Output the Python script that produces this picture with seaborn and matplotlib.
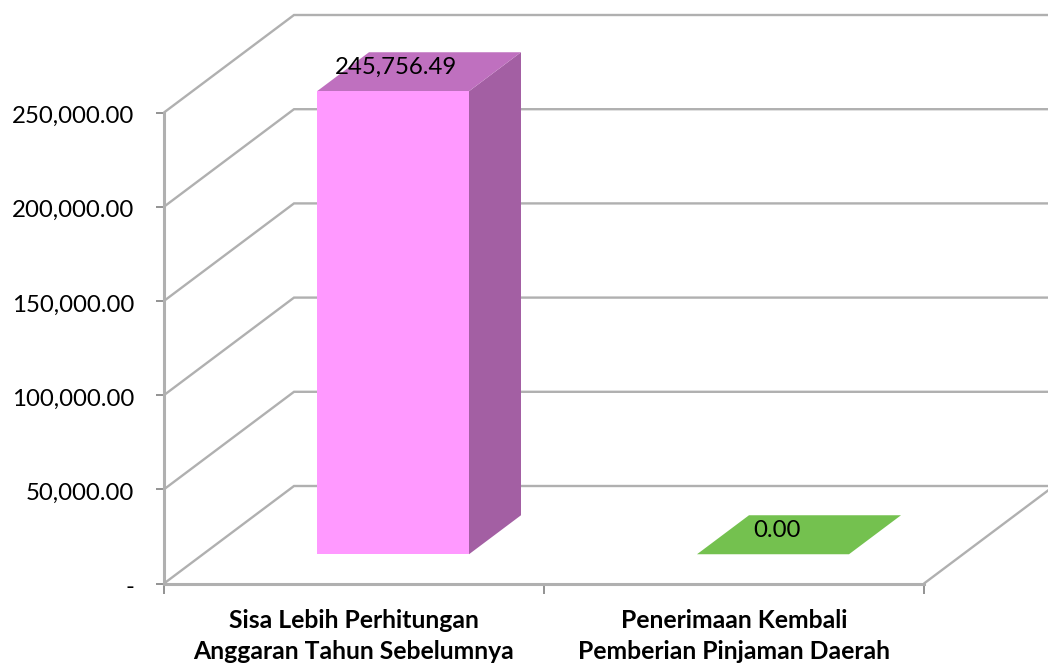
#!/usr/bin/env python3
# -*- coding: utf-8 -*-
"""Pseudo-3D column chart: seaborn draws the front faces, the depth faces are added on top."""

import matplotlib
matplotlib.use("Agg")
import matplotlib.pyplot as plt
import matplotlib.transforms as mtrans
import seaborn as sns
from matplotlib.patches import Polygon

categories = ["Sisa Lebih Perhitungan\nAnggaran Tahun Sebelumnya",
              "Penerimaan Kembali\nPemberian Pinjaman Daerah"]
values = [245756.49, 0.00]
value_labels = ["245,756.49", "0.00"]
y_ticks = [0, 50000, 100000, 150000, 200000, 250000]
y_tick_labels = ["-", "50,000.00", "100,000.00", "150,000.00", "200,000.00", "250,000.00"]

front_colors = ["#ff99ff", "#74c14f"]
top_colors = ["#bf70bf", "#74c14f"]
side_colors = ["#a35fa3", "#74c14f"]
line_color = "#b0b0b0"

W, H = 1048, 667
# plot box in pixels
LEFT, RIGHT, BOTTOM, TOP = 164, 924, 583.5, 112.5
BAR_WIDTH = 0.4
DEPTH_START, DEPTH_END = 0.3, 0.7

sns.set_style("white")
plt.rcParams["font.family"] = ["Lato", "DejaVu Sans"]

fig = plt.figure(figsize=(W / 100, H / 100), dpi=100)
ax = fig.add_axes([LEFT / W, (H - BOTTOM) / H, (RIGHT - LEFT) / W, (BOTTOM - TOP) / H])

sns.barplot(x=categories, y=values, hue=categories, palette=front_colors, width=BAR_WIDTH,
            dodge=False, legend=False, saturation=1, linewidth=0, ax=ax)

ax.set_xlim(-0.5, 1.5)
ax.set_ylim(0, 250000)

# full depth of the chart box, expressed in data units
DX = 130 / ((RIGHT - LEFT) / 2)
DY = 97.5 / (BOTTOM - TOP) * 250000


def project(x, y, depth):
    return x + depth * DX, y + depth * DY


# walls and floor
for v in y_ticks:
    x0, y0 = project(-0.5, v, 0)
    x1, y1 = project(-0.5, v, 1)
    x2, y2 = project(1.5, v, 1)
    ax.plot([x0, x1, x2], [y0, y1, y2], color=line_color, lw=1.7, clip_on=False, zorder=1,
            solid_joinstyle="miter")
x0, y0 = project(1.5, 0, 0)
x1, y1 = project(1.5, 0, 1)
ax.plot([x0, x1], [y0, y1], color=line_color, lw=1.7, clip_on=False, zorder=1)

# push the front faces back and add top and side faces
for i, patch in enumerate(ax.patches):
    px, py = project(patch.get_x(), patch.get_y(), DEPTH_START)
    patch.set_x(px)
    patch.set_y(py)
    patch.set_clip_on(False)
    patch.set_zorder(3)

    xl, xr = i - BAR_WIDTH / 2, i + BAR_WIDTH / 2
    v = values[i]
    top = [project(xl, v, DEPTH_START), project(xr, v, DEPTH_START),
           project(xr, v, DEPTH_END), project(xl, v, DEPTH_END)]
    side = [project(xr, 0, DEPTH_START), project(xr, v, DEPTH_START),
            project(xr, v, DEPTH_END), project(xr, 0, DEPTH_END)]
    ax.add_patch(Polygon(side, closed=True, fc=side_colors[i], ec="none", clip_on=False, zorder=2))
    ax.add_patch(Polygon(top, closed=True, fc=top_colors[i], ec="none", clip_on=False, zorder=2))

    ax.annotate(value_labels[i], xy=(i, v), xytext=(42.5, 53), textcoords="offset pixels",
                ha="center", va="center", fontsize=17.3, color="black", zorder=5,
                annotation_clip=False)

# axes
for side_name in ["top", "right"]:
    ax.spines[side_name].set_visible(False)
for side_name in ["left", "bottom"]:
    ax.spines[side_name].set_color(line_color)
    ax.spines[side_name].set_linewidth(2.2)
    ax.spines[side_name].set_zorder(1.5)

ax.set_yticks(y_ticks)
ax.set_yticklabels(y_tick_labels, fontsize=17.3, color="black")
ax.tick_params(axis="y", length=6, width=1.2, color="#808080", pad=15.5, left=True)
# tick labels sit a little under their ticks in the original
shift_down = mtrans.Affine2D().translate(0, -2)
for label in ax.get_yticklabels():
    label.set_transform(label.get_transform() + shift_down)

ax.set_xticks([0, 1])
ax.set_xticklabels(categories, fontsize=17.8, fontweight="bold", color="black", linespacing=1.42)
ax.set_xticks([-0.5, 0.5, 1.5], minor=True)
ax.tick_params(axis="x", which="major", length=0, pad=18.5)
ax.tick_params(axis="x", which="minor", length=7, width=1.2, color="#808080", bottom=True)

plt.savefig("out.png", dpi=100)
